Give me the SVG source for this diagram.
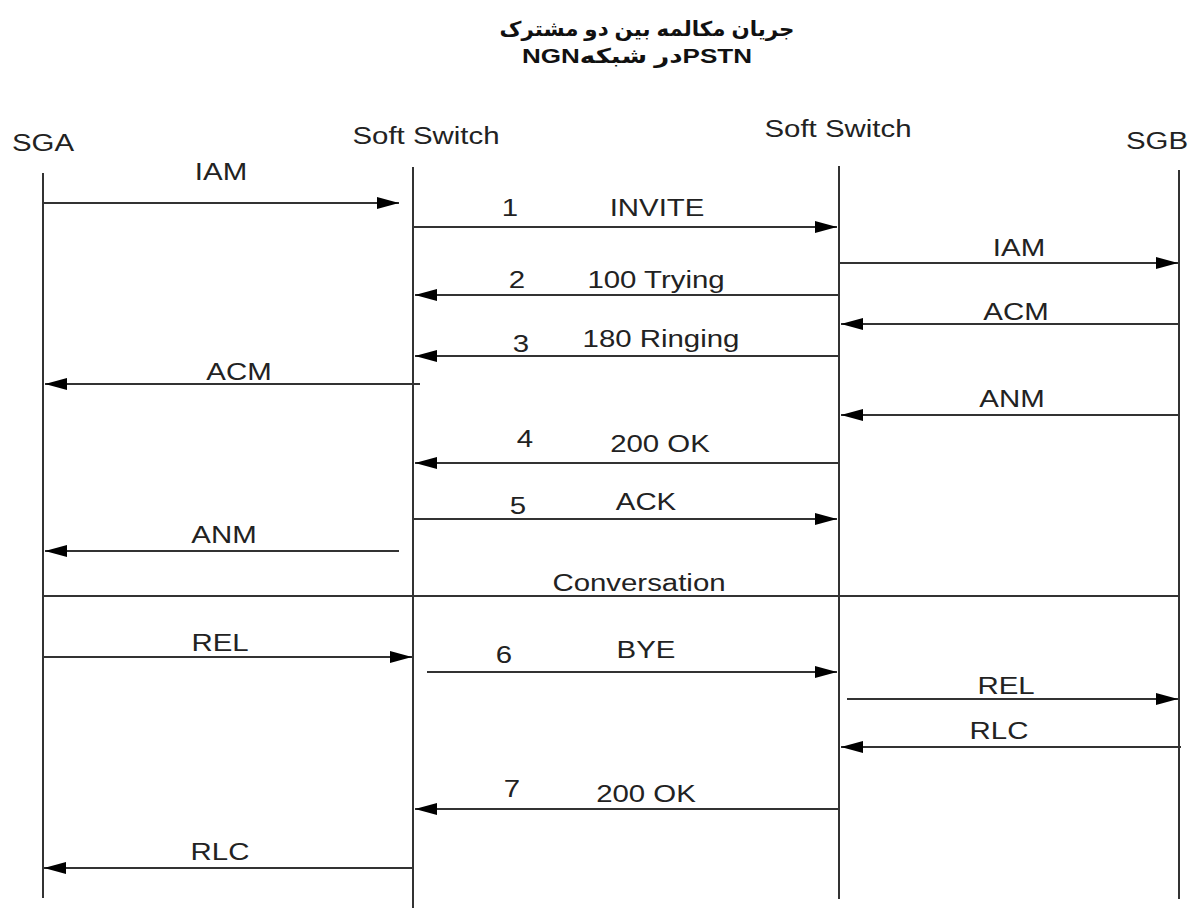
<svg xmlns="http://www.w3.org/2000/svg" width="1193" height="908" viewBox="0 0 1193 908">
<style>
  .t { font-family: "Liberation Sans", Arial, "DejaVu Sans", sans-serif; font-size: 24.5px; fill: #222; text-anchor: middle; }
  .ttl { font-family: "Liberation Sans", Arial, "DejaVu Sans", sans-serif; font-size: 20.5px; font-weight: bold; fill: #111; text-anchor: middle; }
  .life { stroke: #333; stroke-width: 2; fill: none; }
  .msg { stroke: #333; stroke-width: 2; fill: none; }
  .head { fill: #000; }
</style>
<defs>
  <marker id="ah" viewBox="0 0 22 12" refX="22" refY="6" markerWidth="22" markerHeight="12" markerUnits="userSpaceOnUse" orient="auto">
    <path class="head" d="M0,0 L22,6 L0,12 Z"/>
  </marker>
</defs>
<rect width="1193" height="908" fill="#fff"/>

<g id="title">
  <text class="ttl" x="647" y="36" textLength="295" lengthAdjust="spacingAndGlyphs">جریان مکالمه بین دو مشترک</text>
  <text class="ttl" x="637" y="63" textLength="230" lengthAdjust="spacingAndGlyphs">NGNدر شبکهPSTN</text>
</g>

<g id="node-sga">
  <text class="t" transform="translate(43,151) scale(1.2,1)">SGA</text>
  <line class="life" x1="43" y1="173" x2="43" y2="898"/>
</g>
<g id="node-softswitch-a">
  <text class="t" transform="translate(426,144) scale(1.2,1)">Soft Switch</text>
  <line class="life" x1="413" y1="167" x2="413" y2="908"/>
</g>
<g id="node-softswitch-b">
  <text class="t" transform="translate(838,137) scale(1.2,1)">Soft Switch</text>
  <line class="life" x1="839" y1="166" x2="839" y2="899"/>
</g>
<g id="node-sgb">
  <text class="t" transform="translate(1157,149) scale(1.2,1)">SGB</text>
  <line class="life" x1="1179" y1="170" x2="1179" y2="899"/>
</g>

<g id="connectors">
  <line class="msg" x1="43" y1="203" x2="399" y2="203" marker-end="url(#ah)"/>
  <line class="msg" x1="413" y1="227" x2="837" y2="227" marker-end="url(#ah)"/>
  <line class="msg" x1="839" y1="263" x2="1178" y2="263" marker-end="url(#ah)"/>
  <line class="msg" x1="839" y1="295" x2="415" y2="295" marker-end="url(#ah)"/>
  <line class="msg" x1="1179" y1="324" x2="841" y2="324" marker-end="url(#ah)"/>
  <line class="msg" x1="839" y1="356" x2="415" y2="356" marker-end="url(#ah)"/>
  <line class="msg" x1="420" y1="384" x2="45" y2="384" marker-end="url(#ah)"/>
  <line class="msg" x1="1179" y1="415" x2="841" y2="415" marker-end="url(#ah)"/>
  <line class="msg" x1="839" y1="463" x2="415" y2="463" marker-end="url(#ah)"/>
  <line class="msg" x1="413" y1="519" x2="837" y2="519" marker-end="url(#ah)"/>
  <line class="msg" x1="399" y1="551" x2="45" y2="551" marker-end="url(#ah)"/>
  <line class="msg" x1="43" y1="596" x2="1180" y2="596"/>
  <line class="msg" x1="43" y1="657" x2="412" y2="657" marker-end="url(#ah)"/>
  <line class="msg" x1="427" y1="672" x2="837" y2="672" marker-end="url(#ah)"/>
  <line class="msg" x1="847" y1="699" x2="1178" y2="699" marker-end="url(#ah)"/>
  <line class="msg" x1="1181" y1="747" x2="841" y2="747" marker-end="url(#ah)"/>
  <line class="msg" x1="839" y1="809" x2="415" y2="809" marker-end="url(#ah)"/>
  <line class="msg" x1="413" y1="868" x2="44" y2="868" marker-end="url(#ah)"/>
</g>

<g id="labels">
  <text class="t" transform="translate(221,180) scale(1.2,1)">IAM</text>
  <text class="t" transform="translate(510,216) scale(1.2,1)">1</text>
  <text class="t" transform="translate(657,216) scale(1.2,1)">INVITE</text>
  <text class="t" transform="translate(1019,256) scale(1.2,1)">IAM</text>
  <text class="t" transform="translate(517,288) scale(1.2,1)">2</text>
  <text class="t" transform="translate(656,288) scale(1.2,1)">100 Trying</text>
  <text class="t" transform="translate(1016,320) scale(1.2,1)">ACM</text>
  <text class="t" transform="translate(521,352) scale(1.2,1)">3</text>
  <text class="t" transform="translate(661,347) scale(1.2,1)">180 Ringing</text>
  <text class="t" transform="translate(239,380) scale(1.2,1)">ACM</text>
  <text class="t" transform="translate(1012,407) scale(1.2,1)">ANM</text>
  <text class="t" transform="translate(525,447) scale(1.2,1)">4</text>
  <text class="t" transform="translate(660,452) scale(1.2,1)">200 OK</text>
  <text class="t" transform="translate(518,514) scale(1.2,1)">5</text>
  <text class="t" transform="translate(646,510) scale(1.2,1)">ACK</text>
  <text class="t" transform="translate(224,543) scale(1.2,1)">ANM</text>
  <text class="t" transform="translate(639,591) scale(1.2,1)">Conversation</text>
  <text class="t" transform="translate(220,651) scale(1.2,1)">REL</text>
  <text class="t" transform="translate(504,663) scale(1.2,1)">6</text>
  <text class="t" transform="translate(646,658) scale(1.2,1)">BYE</text>
  <text class="t" transform="translate(1006,694) scale(1.2,1)">REL</text>
  <text class="t" transform="translate(999,739) scale(1.2,1)">RLC</text>
  <text class="t" transform="translate(512,797) scale(1.2,1)">7</text>
  <text class="t" transform="translate(646,802) scale(1.2,1)">200 OK</text>
  <text class="t" transform="translate(220,860) scale(1.2,1)">RLC</text>
</g>
</svg>
